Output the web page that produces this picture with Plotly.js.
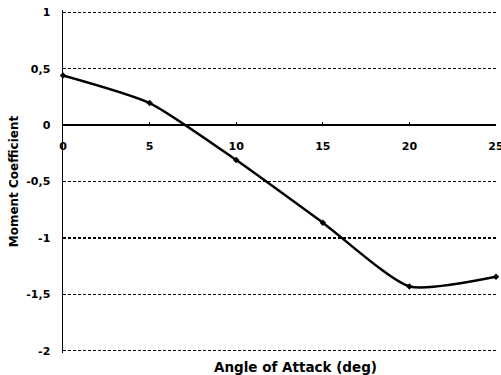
<!DOCTYPE html>
<html>
<head>
<meta charset="utf-8">
<script src="https://cdn.plot.ly/plotly-3.0.1.min.js"></script>
<style>html,body{margin:0;padding:0;background:#fff;}#chart{width:501px;height:375px;}</style>
</head>
<body>
<div id="chart"></div>
<script>
const angle = [0, 5, 10, 15, 20, 25];
const moment = [0.44, 0.195, -0.31, -0.865, -1.43, -1.345];
const yTickVals = [1, 0.5, 0, -0.5, -1, -1.5, -2];
const yTickText = ['1', '0,5', '0', '-0,5', '-1', '-1,5', '-2'];
const xTickVals = [0, 5, 10, 15, 20, 25];
const xTickText = ['0', '5', '10', '15', '20', '25'];

const tickFont = {family: 'DejaVu Sans, sans-serif', size: 11, color: '#000', weight: 'bold'};
const yTitleFont = {family: 'DejaVu Sans, sans-serif', size: 12, color: '#000', weight: 'bold'};
const xTitleFont = {family: 'DejaVu Sans, sans-serif', size: 13.5, color: '#000', weight: 'bold'};

Plotly.newPlot('chart', [{
  x: angle, y: moment, type: 'scatter', mode: 'lines+markers',
  line: {color: '#000', width: 2.5, shape: 'spline', smoothing: 0.6},
  marker: {color: '#000', size: 5, symbol: 'diamond'},
  cliponaxis: false, showlegend: false
}], {
  width: 501, height: 375,
  margin: {l: 63, r: 5, t: 10, b: 22},
  paper_bgcolor: '#fff', plot_bgcolor: '#fff',
  font: tickFont,
  xaxis: {
    range: [0, 25], anchor: 'free', position: 2.02/3.04,
    tickvals: xTickVals, ticktext: xTickText,
    showgrid: false, zeroline: false,
    showline: true, linecolor: '#000', linewidth: 1.2,
    ticks: 'inside', ticklen: 3, tickcolor: '#000', tickwidth: 1,
    ticklabelstandoff: 11, ticklabeloverflow: 'allow',
    tickfont: tickFont
  },
  yaxis: {
    range: [-2.02, 1.02],
    tickvals: yTickVals, ticktext: yTickText,
    showgrid: true, gridcolor: '#000', gridwidth: 1.2, griddash: '3px,2px',
    zeroline: true, zerolinecolor: '#000', zerolinewidth: 1.2,
    showline: true, linecolor: '#000', linewidth: 1.5,
    ticks: '', ticklabelstandoff: 9,
    tickfont: tickFont,
    title: {text: 'Moment Coefficient', font: yTitleFont, standoff: 5}
  },
  annotations: [{
    text: 'Angle of Attack (deg)', xref: 'paper', yref: 'paper',
    x: 0.538, y: 0, yshift: -14, showarrow: false, font: xTitleFont,
    xanchor: 'center', yanchor: 'middle'
  }]
}, {displayModeBar: false, staticPlot: true});
</script>
</body>
</html>
